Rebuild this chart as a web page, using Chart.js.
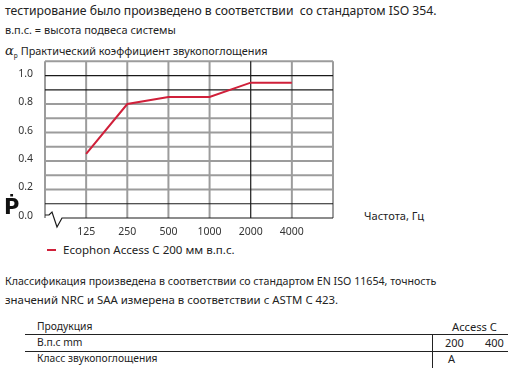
<!DOCTYPE html>
<html>
<head>
<meta charset="utf-8">
<script src="https://cdn.jsdelivr.net/npm/chart.js@4.4.0/dist/chart.umd.min.js"></script>
<style>
  body { margin: 0; width: 526px; height: 374px; background: #fff; font-family: "Noto Sans", sans-serif; color: #222; position: relative; overflow: hidden; }
  .t { position: absolute; white-space: nowrap; line-height: 1; }
  #wrap { position: absolute; left: 0; top: 51px; width: 340px; height: 190px; }
  .hl { position: absolute; height: 1px; background: #222; }
</style>
</head>
<body>
<!-- data-x / data-cy = gauche / centre vertical, data-w = largeur voulue (data-fs = taille fixe) -->
<div class="t" data-x="5" data-cy="12" data-w="432">тестирование было произведено в соответствии&nbsp; со стандартом ISO 354.</div>
<div class="t" data-x="5" data-cy="31" data-w="171">в.п.с. = высота подвеса системы</div>
<div class="t" data-x="5" data-cy="50" data-w="263"><span style="font-family:'DejaVu Serif'; font-style:italic; font-size:1.2em;">α</span><sub style="font-size:0.6em;">p</sub> Практический коэффициент звукопоглощения</div>

<div id="wrap"><canvas id="graphique"></canvas></div>

<div class="t" style="left:4px; top:197px; font-family:'DejaVu Sans'; font-weight:bold; font-size:21px; color:#111;">Ṗ</div>
<div class="t" data-x="364" data-cy="216" data-w="60">Частота, Гц</div>

<div class="t" data-x="63" data-cy="250" data-w="172">Ecophon Access C 200 мм в.п.с.</div>
<div style="position:absolute; left:47px; top:249px; width:9px; height:2px; background:#d0203a;"></div>

<div class="t" data-x="5" data-cy="282" data-w="432">Классификация произведена в соответствии со стандартом EN ISO 11654, точность</div>
<div class="t" data-x="5" data-cy="300" data-fs="11.4">значений NRC и SAA измерена в соответствии с ASTM C 423.</div>

<div class="t" data-x="37" data-cy="327" data-fs="10.3">Продукция</div>
<div class="t" data-x="452" data-cy="327" data-w="45">Access C</div>
<div class="hl" style="left:25px; top:334px; width:483px;"></div>
<div class="t" data-x="37" data-cy="343" data-fs="10.3">В.п.с mm</div>
<div class="t" data-x="445" data-cy="343" data-fs="11">200</div>
<div class="t" data-x="485" data-cy="343" data-fs="11">400</div>
<div class="hl" style="left:25px; top:351px; width:483px;"></div>
<div class="t" data-x="37" data-cy="359" data-fs="10.3">Класс звукопоглощения</div>
<div class="t" data-x="448" data-cy="359" data-fs="11">A</div>
<div class="hl" style="left:432px; top:334px; width:1px; height:34px;"></div>

<script>
// ajuster la taille des textes a la largeur voulue
document.querySelectorAll('.t[data-cy]').forEach(el => {
    let fs = +el.dataset.fs;
    if (el.dataset.w) {
        el.style.fontSize = '12px';
        const w = el.getBoundingClientRect().width;
        fs = 12 * (+el.dataset.w) / w;
    }
    el.style.fontSize = fs + 'px';
    el.style.left = el.dataset.x + 'px';
    el.style.top = (+el.dataset.cy - fs * 0.55) + 'px';
});

// частоты (пустые края = поля сетки слева и справа)
const frequences = ['', '125', '250', '500', '1000', '2000', '4000', ''];
const accessC200 = [null, 0.45, 0.80, 0.85, 0.85, 0.95, 0.95, null];
const yTicks = [0, 0.2, 0.4, 0.6, 0.8, 1.0];
const lignesNoires = [0.1, 0.9, 1.0];   // lignes horizontales noires
const colonneNoire = '2000';

const gris = '#9c9c9c';
const noir = '#1a1a1a';

// grille dessinee a la main (gris d'abord, noir par dessus)
const grille = {
    id: 'grille',
    beforeDatasetsDraw(chart) {
        const ctx = chart.ctx;
        const x = chart.scales.x;
        const y = chart.scales.y;
        const traits = [];
        x.ticks.forEach((t, i) => {
            const px = x.getPixelForTick(i);
            const n = frequences[i] === colonneNoire;
            traits.push({ n, a: [px, y.top], b: [px, y.bottom] });
        });
        y.ticks.forEach(t => {
            const v = Math.round(t.value * 10) / 10;
            if (v === 0) return;
            const py = y.getPixelForValue(t.value);
            traits.push({ n: lignesNoires.includes(v), a: [x.left, py], b: [x.right, py] });
        });
        ctx.save();
        [false, true].forEach(noire => {
            ctx.strokeStyle = noire ? noir : gris;
            ctx.lineWidth = noire ? 1.2 : 2;
            traits.filter(tr => tr.n === noire).forEach(tr => {
                ctx.beginPath();
                ctx.moveTo(tr.a[0], tr.a[1]);
                ctx.lineTo(tr.b[0], tr.b[1]);
                ctx.stroke();
            });
        });
        ctx.restore();
    },
    afterDraw(chart) {
        // ligne 0.0 avec la coupure en zigzag
        const ctx = chart.ctx;
        const x = chart.scales.x;
        const y0 = chart.scales.y.getPixelForValue(0);
        const l = x.left;
        ctx.save();
        ctx.strokeStyle = noir;
        ctx.lineWidth = 1.2;
        ctx.beginPath();
        ctx.moveTo(l, y0 - 3);
        ctx.lineTo(l + 4, y0 - 3);
        ctx.lineTo(l + 7, y0 - 6);
        ctx.lineTo(l + 12, y0 + 9);
        ctx.lineTo(l + 17, y0);
        ctx.lineTo(x.right, y0);
        ctx.stroke();
        ctx.restore();
    }
};

const graph = document.getElementById('graphique');

new Chart(graph, {
    type: 'line',
    data: {
        labels: frequences,
        datasets: [{
            data: accessC200,
            borderColor: '#d0203a',
            borderWidth: 2,
            pointRadius: 0,
            tension: 0
        }]
    },
    options: {
        responsive: true,
        maintainAspectRatio: false,
        animation: false,
        layout: { padding: { top: 0, right: 7 } },
        plugins: { legend: { display: false }, tooltip: { enabled: false } },
        scales: {
            x: {
                offset: false,
                border: { display: false },
                grid: { display: false },
                ticks: {
                    autoSkip: false,
                    maxRotation: 0,
                    padding: 0,
                    color: '#333',
                    font: { family: 'Noto Sans', size: 10.5 }
                },
                afterFit: s => { s.height = 23; }
            },
            y: {
                min: 0,
                max: 1.1,
                border: { display: false },
                grid: { display: false },
                ticks: {
                    stepSize: 0.1,
                    autoSkip: false,
                    padding: 4,
                    labelOffset: -2,
                    color: '#333',
                    font: { family: 'Noto Sans', size: 10.5 },
                    callback: v => {
                        const r = Math.round(v * 10) / 10;
                        return yTicks.includes(r) ? r.toFixed(1) : '';
                    }
                },
                afterFit: s => { s.width = 45; }
            }
        }
    },
    plugins: [grille]
});
</script>
</body>
</html>
